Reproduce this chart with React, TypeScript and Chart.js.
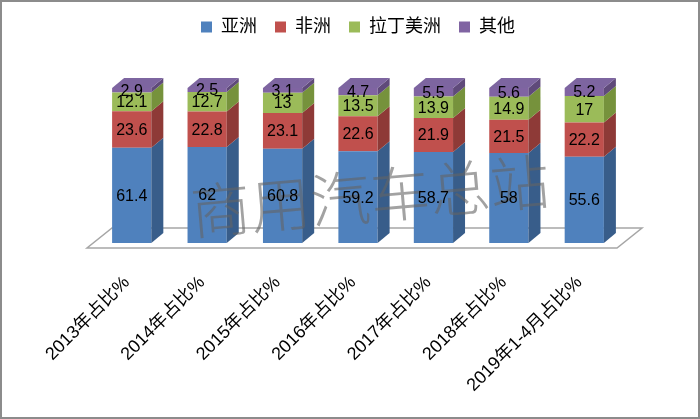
import { useEffect, useRef } from "react";
import { Chart, registerables } from "chart.js";

Chart.register(...registerables);

const categories = [
  "2013年占比%",
  "2014年占比%",
  "2015年占比%",
  "2016年占比%",
  "2017年占比%",
  "2018年占比%",
  "2019年1-4月占比%",
];
const seriesNames = ["亚洲", "非洲", "拉丁美洲", "其他"];
const asia = [61.4, 62, 60.8, 59.2, 58.7, 58, 55.6];
const africa = [23.6, 22.8, 23.1, 22.6, 21.9, 21.5, 22.2];
const latam = [12.1, 12.7, 13, 13.5, 13.9, 14.9, 17];
const other = [2.9, 2.5, 3.1, 4.7, 5.5, 5.6, 5.2];

const frontColors = ["#4F81BD", "#C0504D", "#9BBB59", "#8064A2"];
const sideColors = ["#385D8A", "#8E3A37", "#76923C", "#5F4A7A"];
const topColor = "#7D65A0";
const watermark = "商用汽车总站";

const DX = 12;
const DY = 10;
const FONT = "'Liberation Sans', 'Noto Sans CJK SC', sans-serif";

const bar3d = {
  id: "bar3d",
  beforeInit(chart: any) {
    const lg = chart.legend;
    if (lg) {
      const f = lg.fit.bind(lg);
      lg.fit = () => {
        f();
        lg.height = 88;
      };
    }
  },
  beforeDraw(chart: any) {
    const { ctx, width, height } = chart;
    ctx.save();
    ctx.fillStyle = "#FFFFFF";
    ctx.fillRect(0, 0, width, height);
    ctx.strokeStyle = "#8C8C8C";
    ctx.lineWidth = 2;
    ctx.strokeRect(1, 1, width - 2, height - 2);
    ctx.restore();
  },
  beforeDatasetsDraw(chart: any) {
    const { ctx, chartArea } = chart;
    const yb = chartArea.bottom + 5;
    const l = chartArea.left - 7;
    const r = chartArea.right - 5;
    ctx.save();
    ctx.beginPath();
    ctx.moveTo(l, yb);
    ctx.lineTo(r, yb);
    ctx.lineTo(r + 25, yb - 20);
    ctx.lineTo(l + 25, yb - 20);
    ctx.closePath();
    ctx.fillStyle = "#FFFFFF";
    ctx.fill();
    ctx.strokeStyle = "#A6A6A6";
    ctx.lineWidth = 1.5;
    ctx.stroke();
    ctx.restore();
  },
  afterDatasetsDraw(chart: any) {
    const { ctx } = chart;
    ctx.save();
    const n = chart.data.datasets.length;
    for (let d = 0; d < n; d++) {
      const meta = chart.getDatasetMeta(d);
      meta.data.forEach((el: any) => {
        const right = el.x + el.width / 2;
        const top = Math.min(el.y, el.base);
        const bot = Math.max(el.y, el.base);
        ctx.beginPath();
        ctx.moveTo(right, top);
        ctx.lineTo(right + DX, top - DY);
        ctx.lineTo(right + DX, bot - DY);
        ctx.lineTo(right, bot);
        ctx.closePath();
        ctx.fillStyle = sideColors[d];
        ctx.fill();
        if (d === n - 1) {
          const left = el.x - el.width / 2;
          ctx.beginPath();
          ctx.moveTo(left, top);
          ctx.lineTo(left + DX, top - DY);
          ctx.lineTo(right + DX, top - DY);
          ctx.lineTo(right, top);
          ctx.closePath();
          ctx.fillStyle = topColor;
          ctx.fill();
        }
      });
    }
    // watermark
    ctx.save();
    ctx.translate(370, 196);
    ctx.rotate((-5 * Math.PI) / 180);
    ctx.font = "200 60px 'Noto Sans CJK SC'";
    ctx.fillStyle = "rgba(100,100,100,0.6)";
    ctx.textAlign = "center";
    ctx.textBaseline = "middle";
    ctx.fillText(watermark, 0, 0);
    ctx.restore();
    // data labels
    ctx.font = "16px " + FONT;
    ctx.fillStyle = "#000000";
    ctx.textAlign = "center";
    ctx.textBaseline = "middle";
    for (let d = 0; d < n; d++) {
      const meta = chart.getDatasetMeta(d);
      const vals = chart.data.datasets[d].data;
      meta.data.forEach((el: any, i: number) => {
        ctx.fillText(String(vals[i]), el.x, (el.y + el.base) / 2 + 1);
      });
    }
    ctx.restore();
  },
};

export default function App() {
  const ref = useRef<HTMLCanvasElement | null>(null);
  useEffect(() => {
    if (!ref.current) return;
    const all = [asia, africa, latam, other];
    const chart = new Chart(ref.current, {
      type: "bar",
      data: {
        labels: categories,
        datasets: all.map((vals, i) => ({
          label: seriesNames[i],
          data: vals,
          backgroundColor: frontColors[i],
          borderWidth: 0,
          barPercentage: 0.52,
          categoryPercentage: 1,
        })),
      },
      options: {
        animation: false,
        responsive: true,
        maintainAspectRatio: false,
        layout: { padding: { left: 94, right: 78, top: 0, bottom: 0 } },
        plugins: {
          legend: {
            position: "top",
            labels: {
              boxWidth: 11,
              boxHeight: 11,
              padding: 18,
              color: "#000",
              font: { family: FONT, size: 18 },
            },
          },
          tooltip: { enabled: false },
        },
        scales: {
          x: {
            stacked: true,
            grid: { display: false, drawTicks: false },
            border: { display: false },
            ticks: {
              minRotation: 45,
              maxRotation: 45,
              autoSkip: false,
              padding: 29,
              labelOffset: -5,
              color: "#000",
              font: { family: FONT, size: 18 },
            },
            afterFit: (s: any) => {
              s.height = 176;
              s.paddingLeft = 0;
              s.paddingRight = 0;
            },
          },
          y: { stacked: true, display: false, min: 0, max: 100 },
        },
      },
      plugins: [bar3d],
    });
    return () => chart.destroy();
  }, []);
  return (
    <div style={{ position: "absolute", left: 0, top: 0, width: 700, height: 419 }}>
      <canvas ref={ref} />
    </div>
  );
}
